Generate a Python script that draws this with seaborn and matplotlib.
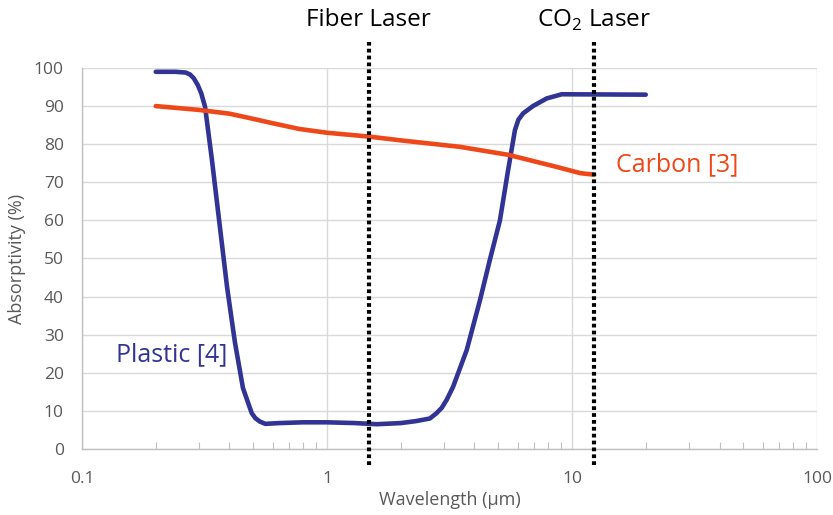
import matplotlib
matplotlib.use("Agg")
import matplotlib.pyplot as plt
import seaborn as sns
import pandas as pd
from matplotlib.ticker import FixedLocator, LogLocator, NullFormatter

# ---- data ----
plastic_x = [0.2, 0.24, 0.265, 0.276, 0.286, 0.297, 0.307, 0.318, 0.339, 0.366,
             0.391, 0.421, 0.454, 0.493, 0.51, 0.532, 0.56, 0.64, 0.8, 1.0,
             1.3, 1.6, 2.0, 2.3, 2.63, 2.80, 2.94, 3.08, 3.27, 3.72, 4.21,
             4.62, 5.08, 5.48, 5.85, 6.04, 6.32, 6.93, 7.88, 9.08, 20.0]
plastic_y = [99, 99, 98.8, 98.3, 97.3, 95.5, 93.3, 89.8, 76, 58,
             42.5, 28, 16, 9.4, 8.1, 7.2, 6.6, 6.8, 7.0, 7.0,
             6.8, 6.5, 6.8, 7.3, 8.0, 9.4, 10.8, 12.9, 16.3, 26, 39,
             49.6, 60, 73, 83.7, 86.4, 88.1, 90, 92, 93.1, 93]
carbon_x = [0.2, 0.3, 0.4, 0.48, 0.6, 0.77, 1.0, 1.48, 2.0, 3.49, 5.5, 8.7, 10.8, 12.3]
carbon_y = [90, 89, 88, 86.9, 85.5, 84, 83, 82, 81, 79.3, 77.2, 74, 72.4, 72]
laser_x = [1.48, 12.3]
laser_labels = ["Fiber Laser", "CO$_2$ Laser"]
x_ticks = [0.1, 1, 10, 100]
x_ticklabels = ["0.1", "1", "10", "100"]
y_ticks = [0, 10, 20, 30, 40, 50, 60, 70, 80, 90, 100]

BLUE = "#313494"
RED = "#EE4719"
GRAY_TXT = "#595959"
GRID = "#d9d9d9"

sns.set_theme(style="white")
plt.rcParams["font.family"] = ["Open Sans", "DejaVu Sans"]
plt.rcParams["mathtext.fontset"] = "custom"
plt.rcParams["mathtext.rm"] = "Open Sans"

fig = plt.figure(figsize=(8.33, 5.15), dpi=100)
ax = fig.add_axes([0.0984, 0.1282, 0.8824, 0.7398])

df_p = pd.DataFrame({"x": plastic_x, "y": plastic_y})
df_c = pd.DataFrame({"x": carbon_x, "y": carbon_y})
sns.lineplot(data=df_p, x="x", y="y", ax=ax, color=BLUE, lw=3.3, zorder=3)
sns.lineplot(data=df_c, x="x", y="y", ax=ax, color=RED, lw=3.3, zorder=3)

ax.set_xscale("log")
ax.set_xlim(0.1, 100)
ax.set_ylim(0, 100)

ax.xaxis.set_major_locator(FixedLocator(x_ticks))
ax.set_xticklabels(x_ticklabels)
ax.xaxis.set_minor_locator(LogLocator(base=10, subs=range(2, 10)))
ax.xaxis.set_minor_formatter(NullFormatter())
ax.set_yticks(y_ticks)

ax.grid(True, which="major", axis="both", color=GRID, lw=1)
ax.set_axisbelow(True)
ax.tick_params(axis="x", which="major", length=0, pad=16, labelsize=12.5, labelcolor=GRAY_TXT)
ax.tick_params(axis="x", which="minor", length=5, width=0.8, direction="in", color="#bfbfbf", bottom=True)
ax.tick_params(axis="y", length=0, pad=13, labelsize=12.5, labelcolor=GRAY_TXT)

for s in ["top", "right"]:
    ax.spines[s].set_visible(False)
for s in ["left", "bottom"]:
    ax.spines[s].set_color("#bfbfbf")
    ax.spines[s].set_linewidth(1)

ax.set_xlabel("Wavelength (µm)", fontsize=13, color=GRAY_TXT, labelpad=3)
ax.set_ylabel("Absorptivity (%)", fontsize=13, color=GRAY_TXT, labelpad=6)

# laser marker lines extending beyond axes
for lx, lab in zip(laser_x, laser_labels):
    ax.plot([lx, lx], [-4.2, 106.8], color="black", lw=3, ls=(0, (0.9, 0.75)),
            clip_on=False, zorder=4)
    ax.text(lx, 112.5, lab, ha="center", va="center", fontsize=17.5, color="black",
            clip_on=False)

ax.text(0.233, 24.7, "Plastic [4]", ha="center", va="center", fontsize=18, color=BLUE)
ax.text(15.1, 74.5, "Carbon [3]", ha="left", va="center", fontsize=18, color=RED)

fig.savefig("out.png", dpi=100)
